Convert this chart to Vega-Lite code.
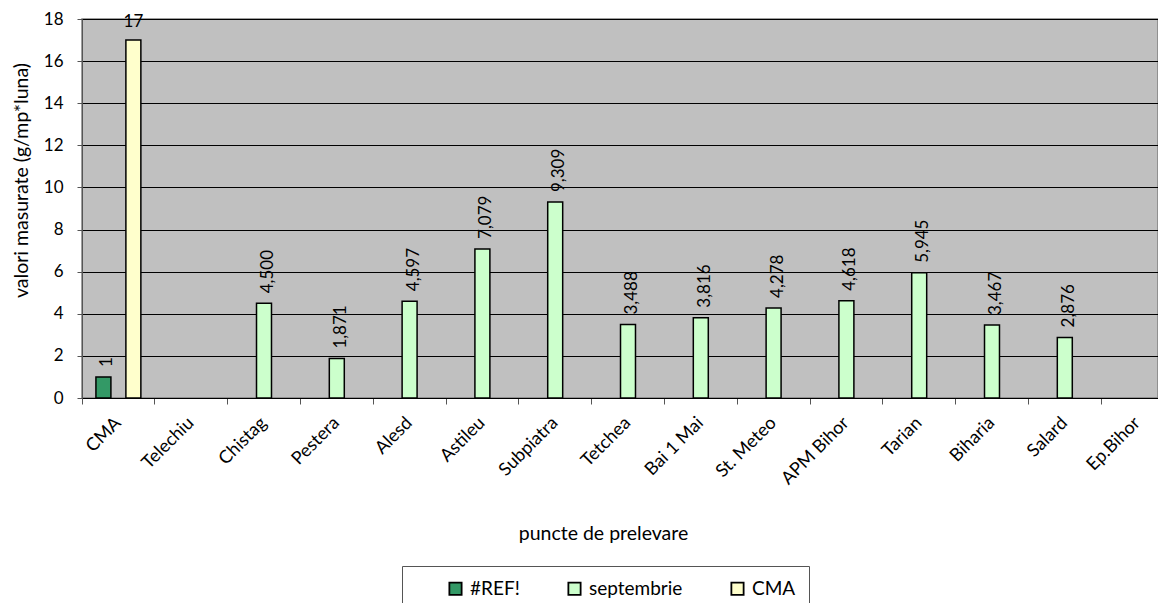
{
  "$schema": "https://vega.github.io/schema/vega-lite/v6.json",
  "width": 1076,
  "height": 379,
  "autosize": {"type": "none"},
  "padding": {"left": 82, "top": 19, "right": 0, "bottom": 205},
  "background": "white",
  "data": {
    "values": [
      {"punct": "CMA", "serie": "#REF!", "valoare": 1, "eticheta": "1"},
      {"punct": "CMA", "serie": "CMA", "valoare": 17, "eticheta": "17"},
      {"punct": "Chistag", "serie": "septembrie", "valoare": 4.5, "eticheta": "4,500"},
      {"punct": "Pestera", "serie": "septembrie", "valoare": 1.871, "eticheta": "1,871"},
      {"punct": "Alesd", "serie": "septembrie", "valoare": 4.597, "eticheta": "4,597"},
      {"punct": "Astileu", "serie": "septembrie", "valoare": 7.079, "eticheta": "7,079"},
      {"punct": "Subpiatra", "serie": "septembrie", "valoare": 9.309, "eticheta": "9,309"},
      {"punct": "Tetchea", "serie": "septembrie", "valoare": 3.488, "eticheta": "3,488"},
      {"punct": "Bai 1 Mai", "serie": "septembrie", "valoare": 3.816, "eticheta": "3,816"},
      {"punct": "St. Meteo", "serie": "septembrie", "valoare": 4.278, "eticheta": "4,278"},
      {"punct": "APM Bihor", "serie": "septembrie", "valoare": 4.618, "eticheta": "4,618"},
      {"punct": "Tarian", "serie": "septembrie", "valoare": 5.945, "eticheta": "5,945"},
      {"punct": "Biharia", "serie": "septembrie", "valoare": 3.467, "eticheta": "3,467"},
      {"punct": "Salard", "serie": "septembrie", "valoare": 2.876, "eticheta": "2,876"}
    ]
  },
  "encoding": {
    "x": {
      "field": "punct",
      "type": "nominal",
      "scale": {
        "domain": ["CMA", "Telechiu", "Chistag", "Pestera", "Alesd", "Astileu", "Subpiatra", "Tetchea", "Bai 1 Mai", "St. Meteo", "APM Bihor", "Tarian", "Biharia", "Salard", "Ep.Bihor"],
        "range": [0, 1092],
        "paddingInner": 0,
        "paddingOuter": 0
      },
      "axis": {
        "title": "puncte de prelevare",
        "titleX": 521,
        "titleY": 135,
        "titleBaseline": "middle",
        "titleFontWeight": "normal",
        "titleFontSize": 19.5,
        "labelAngle": -45,
        "labelAlign": "right",
        "labelBaseline": "middle",
        "labelFontSize": 18,
        "labelPadding": 16,
        "labelOffset": 0,
        "bandPosition": 0,
        "tickSize": 6,
        "tickColor": "#555555",
        "domainColor": "#000000",
        "grid": false
      }
    },
    "xOffset": {
      "field": "serie",
      "type": "nominal",
      "scale": {"domain": ["#REF!", "septembrie", "CMA"], "paddingInner": 0, "paddingOuter": 0.93}
    },
    "y": {
      "field": "valoare",
      "type": "quantitative",
      "scale": {"domain": [0, 18], "nice": false},
      "axis": {
        "title": "valori masurate (g/mp*luna)",
        "titleX": -61,
        "titleY": 161,
        "titleBaseline": "middle",
        "titleFontWeight": "normal",
        "titleFontSize": 19.5,
        "values": [0, 2, 4, 6, 8, 10, 12, 14, 16, 18],
        "labelFontSize": 17,
        "labelPadding": 14,
        "tickSize": 5,
        "tickColor": "#555555",
        "domainColor": "#555555",
        "gridColor": "#000000",
        "gridOpacity": 1,
        "gridWidth": 1
      }
    }
  },
  "layer": [
    {
      "mark": {"type": "bar", "stroke": "#000000", "strokeWidth": 1.5},
      "encoding": {
        "color": {
          "field": "serie",
          "type": "nominal",
          "scale": {"domain": ["#REF!", "septembrie", "CMA"], "range": ["#339966", "#CCFFCC", "#FFFFCC"]},
          "legend": {
            "title": null,
            "orient": "none",
            "direction": "horizontal",
            "legendX": 320,
            "legendY": 547,
            "symbolType": "square",
            "symbolSize": 150,
            "symbolStrokeColor": "#000000",
            "symbolStrokeWidth": 1.8,
            "symbolOpacity": 1,
            "symbolOffset": 31,
            "labelFontSize": 19,
            "labelOffset": 5,
            "columnPadding": 14,
            "padding": 13,
            "strokeColor": "#555555",
            "fillColor": "#FFFFFF"
          }
        }
      }
    },
    {
      "transform": [{"filter": "datum.serie != 'CMA'"}],
      "mark": {"type": "text", "angle": 270, "align": "left", "baseline": "middle", "dx": 10, "dy": 4, "fontSize": 17, "color": "#000000"},
      "encoding": {"text": {"field": "eticheta"}}
    },
    {
      "transform": [{"filter": "datum.serie == 'CMA'"}],
      "mark": {"type": "text", "align": "center", "baseline": "alphabetic", "dy": -13, "fontSize": 17, "color": "#000000"},
      "encoding": {"text": {"field": "eticheta"}}
    }
  ],
  "config": {
    "font": "Lato",
    "view": {"fill": "#C0C0C0", "stroke": "#808080", "strokeWidth": 1.5},
    "axis": {"labelColor": "#000000", "titleColor": "#000000"},
    "legend": {"labelColor": "#000000"}
  }
}
